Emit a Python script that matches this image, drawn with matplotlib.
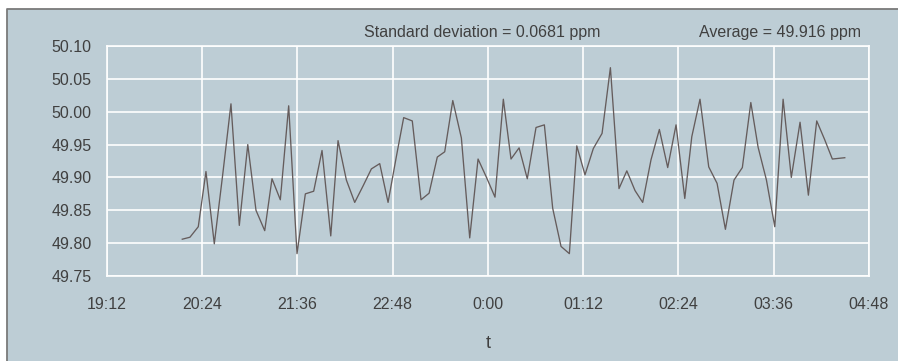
import matplotlib
matplotlib.use("Agg")
import matplotlib.pyplot as plt
from matplotlib.lines import Line2D
from matplotlib.patches import Rectangle

# minutes after 19:12 and frequency (Hz)
minutes = [57.1, 62.9, 69.2, 75.0, 81.3, 87.7, 93.9, 100.2, 106.6, 112.8,
           119.4, 124.9, 131.2, 137.5, 143.8, 150.1, 156.4, 162.7, 169.3, 174.8,
           181.1, 187.4, 193.7, 200.0, 206.3, 212.6, 218.8, 224.4, 230.9, 237.5,
           243.6, 249.8, 255.4, 261.5, 268.0, 274.3, 280.6, 287.2, 293.4, 299.7,
           305.5, 311.6, 317.8, 324.4, 330.7, 337.0, 343.3, 349.6, 355.2, 361.4,
           367.7, 374.3, 380.6, 387.1, 393.0, 399.2, 405.0, 411.3, 417.6, 423.9,
           430.2, 436.8, 442.1, 448.3, 454.9, 461.2, 467.5, 474.0, 480.3, 486.7,
           492.2, 498.5, 504.8, 511.1, 517.3, 523.9, 530.2, 536.5, 542.4, 548.3,
           557.7]
freq = [49.806, 49.809, 49.825, 49.909, 49.799, 49.905, 50.012, 49.827, 49.950, 49.850,
        49.819, 49.898, 49.866, 50.009, 49.784, 49.875, 49.879, 49.941, 49.811, 49.956,
        49.896, 49.862, 49.887, 49.913, 49.921, 49.862, 49.931, 49.991, 49.986, 49.866,
        49.876, 49.931, 49.939, 50.017, 49.960, 49.808, 49.928, 49.899, 49.870, 50.019,
        49.928, 49.945, 49.898, 49.976, 49.980, 49.853, 49.795, 49.784, 49.948, 49.904,
        49.944, 49.967, 50.067, 49.883, 49.910, 49.880, 49.862, 49.927, 49.973, 49.915,
        49.980, 49.868, 49.962, 50.019, 49.916, 49.891, 49.821, 49.896, 49.915, 50.014,
        49.946, 49.896, 49.825, 50.019, 49.900, 49.984, 49.873, 49.986, 49.958, 49.928,
        49.930]

x_ticks = [0, 72, 144, 216, 288, 360, 432, 504, 576]
x_labels = ["19:12", "20:24", "21:36", "22:48", "0:00", "01:12", "02:24", "03:36", "04:48"]
y_ticks = [49.75, 49.80, 49.85, 49.90, 49.95, 50.00, 50.05, 50.10]

panel = "#bdcdd5"
txt = "#404040"
plt.rcParams["font.family"] = ["Liberation Sans", "DejaVu Sans"]

fig = plt.figure(figsize=(8.98, 3.61), dpi=100)
fig.patch.set_facecolor("white")

# shaded panel with grey border on top and left
W, H = 898, 361
x0, y0 = 7 / W, 1 - 9 / H
fig.patches.append(Rectangle((x0, 0), 1 - x0, y0, transform=fig.transFigure,
                             facecolor=panel, edgecolor="none", zorder=-10))
fig.lines.append(Line2D([x0, x0, 1], [0, y0, y0], transform=fig.transFigure,
                        color="#7a7a7a", lw=1.3, zorder=-9))

ax = fig.add_axes([106.7 / W, 1 - 276 / H, (869 - 106.7) / W, (276 - 46) / H])
ax.set_facecolor(panel)
ax.plot(minutes, freq, color="#655c5c", lw=0.95, zorder=3)

ax.set_xlim(0, 576)
ax.set_ylim(49.75, 50.10)
ax.set_xticks(x_ticks)
ax.set_xticklabels(x_labels)
ax.set_yticks(y_ticks)
ax.set_yticklabels([f"{v:.2f}" for v in y_ticks])
ax.tick_params(length=0, labelsize=11.5, colors=txt)
ax.tick_params(axis="y", pad=11)
ax.tick_params(axis="x", pad=15)
ax.grid(True, color="white", lw=1.2)
ax.set_axisbelow(True)
for s in ax.spines.values():
    s.set_color("white")
    s.set_linewidth(1.2)

ax.set_xlabel("t", fontsize=13, color=txt, labelpad=17)

fig.text(364 / W, 1 - 32 / H, "Standard deviation = 0.0681 ppm", fontsize=11.5,
         color=txt, va="center", ha="left")
fig.text(861 / W, 1 - 32 / H, "Average = 49.916 ppm", fontsize=11.5,
         color=txt, va="center", ha="right")

fig.savefig("out.png", dpi=100, facecolor=fig.get_facecolor())
